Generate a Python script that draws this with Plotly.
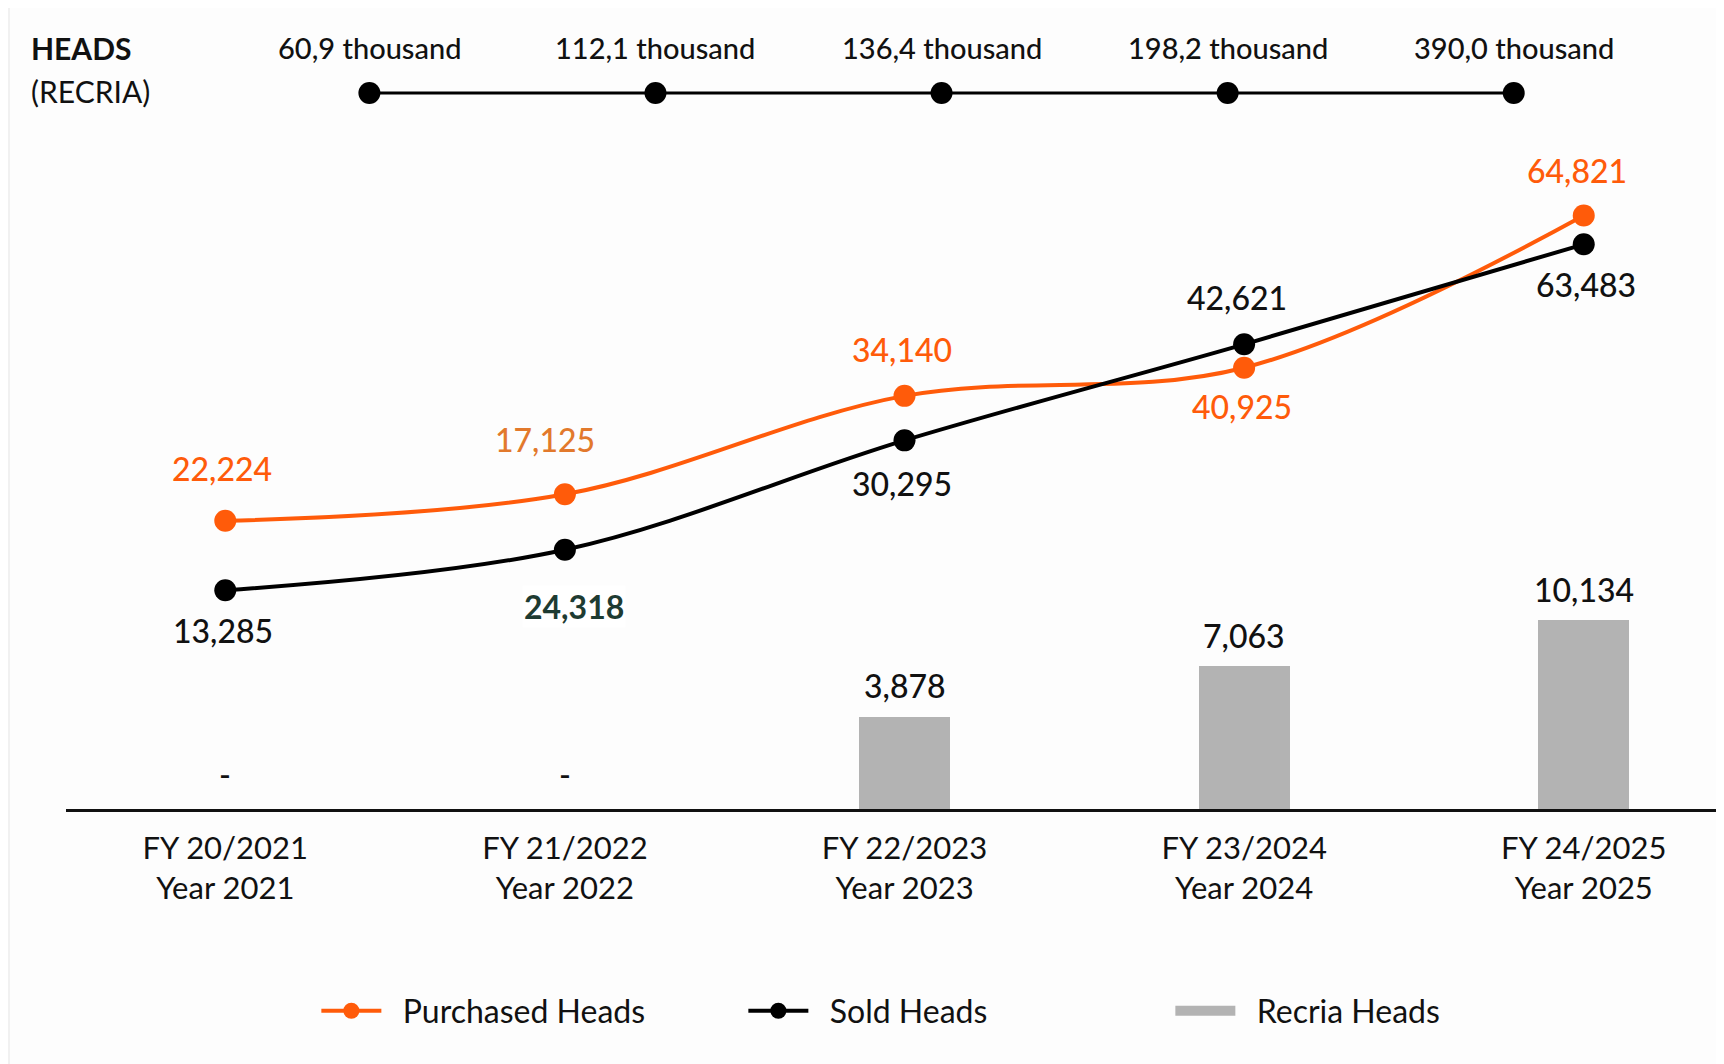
import plotly.graph_objects as go

# ---------------- data ----------------
categories = ["FY 20/2021<br>Year 2021", "FY 21/2022<br>Year 2022", "FY 22/2023<br>Year 2023",
              "FY 23/2024<br>Year 2024", "FY 24/2025<br>Year 2025"]

# labels printed on the chart
purchased_labels = ["22,224", "17,125", "34,140", "40,925", "64,821"]
sold_labels = ["13,285", "24,318", "30,295", "42,621", "63,483"]
recria_labels = ["-", "-", "3,878", "7,063", "10,134"]

# plotted levels as drawn in the reference (in % of chart height; the picture is not to scale)
purchased_level = [36.9, 40.3, 52.9, 56.5, 76.0]
sold_level = [28.0, 33.2, 47.2, 59.5, 72.3]
recria_level = [0, 0, 11.8, 18.3, 24.2]

# top timeline: total recria heads
timeline_labels = ["60,9 thousand", "112,1 thousand", "136,4 thousand", "198,2 thousand", "390,0 thousand"]
timeline_level = [0, 0, 0, 0, 0]

series_names = ["Purchased Heads", "Sold Heads", "Recria Heads"]

# ---------------- style ----------------
ORANGE = "#FF5B0A"
BLACK = "#000000"
GREY = "#B3B3B3"
INK = "#111111"
FONT = "Lato"
NB = "\u00a0\u00a0"

fig = go.Figure()

fig.add_trace(go.Scatter(
    x=categories, y=purchased_level, name=NB + series_names[0], mode="lines+markers",
    line=dict(color=ORANGE, width=4, shape="spline", smoothing=1.0),
    marker=dict(color=ORANGE, size=22), hoverinfo="skip"))
fig.add_trace(go.Scatter(
    x=categories, y=sold_level, name=NB + series_names[1], mode="lines+markers",
    line=dict(color=BLACK, width=4, shape="spline", smoothing=1.0),
    marker=dict(color=BLACK, size=22), hoverinfo="skip"))
fig.add_trace(go.Bar(
    x=categories, y=recria_level, name=series_names[2], marker=dict(color=GREY, line=dict(width=0)),
    width=0.268, hoverinfo="skip", showlegend=False, legendgroup="recria"))
# legend entry for the bars, drawn as a wide grey block like the reference key
fig.add_trace(go.Scatter(
    x=[None], y=[None], name=NB + series_names[2], mode="lines",
    line=dict(color=GREY, width=24), legendgroup="recria", hoverinfo="skip"))

# timeline on overlaid axes
fig.add_trace(go.Scatter(
    x=timeline_labels, y=timeline_level, xaxis="x2", yaxis="y2", mode="lines+markers",
    line=dict(color=BLACK, width=3), marker=dict(color=BLACK, size=22),
    showlegend=False, hoverinfo="skip"))

LBL = 32
ann = []
# purchased labels
p_shift = [(-3, 52, ORANGE), (-20, 55, "#E2792C"), (-3, 46, ORANGE), (-2, -39, ORANGE), (-7, 45, ORANGE)]
for c, v, t, (dx, dy, col) in zip(categories, purchased_level, purchased_labels, p_shift):
    ann.append(dict(x=c, y=v, text=t, showarrow=False, xshift=dx, yshift=dy,
                    font=dict(family=FONT, size=LBL, color=col, weight=500)))
# sold labels
s_shift = [(-2, -40, INK, 500), (9, -57, "#1E3B32", 700), (-3, -43, INK, 500),
           (-7, 47, INK, 500), (2, -40, INK, 500)]
for c, v, t, (dx, dy, col, w) in zip(categories, sold_level, sold_labels, s_shift):
    ann.append(dict(x=c, y=v, text=t, showarrow=False, xshift=dx, yshift=dy,
                    font=dict(family=FONT, size=LBL, color=col, weight=w),
                    bgcolor=("#FFFFFF" if w == 700 else "rgba(255,255,255,0)")))
# recria labels
for c, v, t in zip(categories, recria_level, recria_labels):
    ann.append(dict(x=c, y=v, text=t, showarrow=False, yshift=(35 if t == "-" else 31),
                    font=dict(family=FONT, size=LBL, color=INK, weight=500)))
# timeline labels
for c, v in zip(timeline_labels, timeline_level):
    ann.append(dict(x=c, y=v, xref="x2", yref="y2", text=c, showarrow=False, yshift=45,
                    font=dict(family=FONT, size=29, color=INK, weight=500)))
# header
ann.append(dict(x=-0.0223, y=0.9744, xref="paper", yref="paper", xanchor="left", yanchor="middle",
                text="<b>HEADS</b>", showarrow=False, font=dict(family=FONT, size=30, color=INK)))
ann.append(dict(x=-0.0223, y=0.9193, xref="paper", yref="paper", xanchor="left", yanchor="middle",
                text="(RECRIA)", showarrow=False, font=dict(family=FONT, size=30, color=INK)))

fig.update_layout(
    width=1716, height=1056,
    margin=dict(l=58, r=0, t=20, b=255),
    paper_bgcolor="#F1F1F1", plot_bgcolor="rgba(0,0,0,0)",
    font=dict(family=FONT, size=30, color=INK),
    bargap=0,
    xaxis=dict(type="category", range=[-0.469, 4.413], showgrid=False, zeroline=False,
               showline=True, linecolor=INK, linewidth=2.5, ticks="",
               tickfont=dict(family=FONT, size=31, color=INK), ticklabelstandoff=10),
    yaxis=dict(range=[0, 100], visible=False, showgrid=False, zeroline=False),
    xaxis2=dict(type="category", overlaying="x", anchor="y2", range=[-1.0605, 4.735], visible=False),
    yaxis2=dict(overlaying="y", range=[-0.9168, 0.0832], visible=False),
    legend=dict(orientation="h", x=0.151, xanchor="left", y=-0.2586, yanchor="middle",
                font=dict(family=FONT, size=32, color=INK), entrywidth=352,
                bgcolor="rgba(0,0,0,0)", itemwidth=60, traceorder="normal"),
    shapes=[dict(type="rect", xref="paper", yref="paper", x0=-0.0338, x1=1.02, y0=-0.4, y1=1.05,
                 fillcolor="#FDFDFD", line=dict(width=0), layer="below")],
    annotations=ann,
    showlegend=True,
)

fig.write_html("out.html")
